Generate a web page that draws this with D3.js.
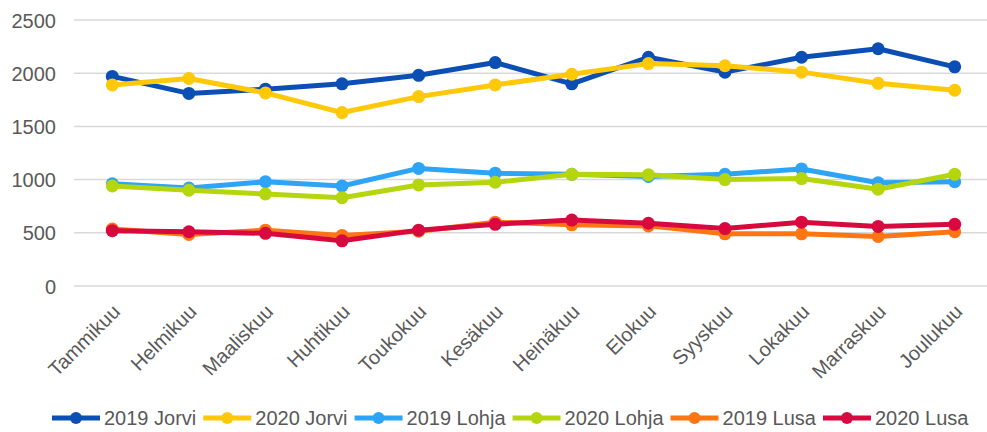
<!DOCTYPE html>
<html><head><meta charset="utf-8">
<script src="https://cdn.jsdelivr.net/npm/d3@7/dist/d3.min.js"></script>
<style>body{margin:0;background:#fff;} text{font-family:"Liberation Sans",Arial,sans-serif;fill:#595959;}</style>
</head><body><svg id="c" width="987" height="432"></svg>
<script>
const months = ["Tammikuu","Helmikuu","Maaliskuu","Huhtikuu","Toukokuu","Kesäkuu","Heinäkuu","Elokuu","Syyskuu","Lokakuu","Marraskuu","Joulukuu"];
const yTicks = [0,500,1000,1500,2000,2500];
const jorvi2019 = [1970,1810,1850,1900,1980,2100,1900,2150,2010,2150,2230,2060];
const jorvi2020 = [1890,1950,1815,1630,1780,1890,1990,2090,2070,2010,1905,1840];
const lohja2019 = [960,920,980,940,1105,1060,1050,1030,1050,1100,970,980];
const lohja2020 = [940,900,865,830,950,975,1050,1045,1000,1010,910,1050];
const lusa2019 = [535,485,525,475,515,600,575,565,490,490,465,510];
const lusa2020 = [520,510,495,425,525,580,620,590,540,600,560,580];
const seriesNames = ["2019 Jorvi","2020 Jorvi","2019 Lohja","2020 Lohja","2019 Lusa","2020 Lusa"];
const seriesColors = ["#0B4FB4","#FFC808","#2EA4F7","#B5D60E","#FF7512","#D8093F"];
const seriesData = [jorvi2019,jorvi2020,lohja2019,lohja2020,lusa2019,lusa2020];

const svg = d3.select("#c");
const x = d3.scaleBand().domain(months).range([74, 993]);
const y = d3.scaleLinear().domain([0,2500]).range([286, 20]);
const cx = m => x(m) + x.bandwidth()/2;
const FS = 20;

// gridlines
svg.append("g").selectAll("line").data(yTicks).join("line")
  .attr("x1", 74).attr("x2", 987).attr("y1", d=>y(d)).attr("y2", d=>y(d))
  .attr("stroke", "#d9d9d9").attr("stroke-width", 1.5);

// y axis labels
const yAxis = d3.axisLeft(y).tickValues(yTicks).tickFormat(d3.format("d")).tickSize(0).tickPadding(0);
const gy = svg.append("g").attr("transform","translate(56,0)").call(yAxis);
gy.select(".domain").remove();
gy.selectAll("text").attr("font-size", FS).attr("dy","0.35em").style("font-family","Liberation Sans, Arial, sans-serif").attr("fill","#595959");

// x axis labels
const xAxis = d3.axisBottom(x).tickSize(0).tickPadding(0);
const gx = svg.append("g").call(xAxis);
gx.select(".domain").remove();
gx.selectAll(".tick").attr("transform", d => `translate(${cx(d)+9},313)`);
gx.selectAll("text").attr("font-size", FS).attr("y",0).attr("dy","0").attr("text-anchor","end")
  .attr("transform","rotate(-45)").style("font-family","Liberation Sans, Arial, sans-serif").attr("fill","#595959");

// lines
const line = d3.line().x((d,i)=>cx(months[i])).y(d=>y(d));
seriesData.forEach((arr, si) => {
  const g = svg.append("g");
  g.append("path").datum(arr).attr("d", line).attr("fill","none")
    .attr("stroke", seriesColors[si]).attr("stroke-width", 5).attr("stroke-linejoin","round");
  g.selectAll("circle").data(arr).join("circle")
    .attr("cx",(d,i)=>cx(months[i])).attr("cy", d=>y(d)).attr("r", 6.5).attr("fill", seriesColors[si]);
});

// legend
const lg = svg.append("g");
let lx = 52; const ly = 418;
seriesNames.forEach((n, i) => {
  lg.append("line").attr("x1", lx).attr("x2", lx+48).attr("y1", ly).attr("y2", ly)
    .attr("stroke", seriesColors[i]).attr("stroke-width", 5);
  lg.append("circle").attr("cx", lx+24).attr("cy", ly).attr("r", 6).attr("fill", seriesColors[i]);
  const t = lg.append("text").attr("x", lx+52).attr("y", ly).attr("dy","0.35em").attr("font-size", FS).text(n);
  lx += 52 + t.node().getComputedTextLength() + 7;
});
</script></body></html>
